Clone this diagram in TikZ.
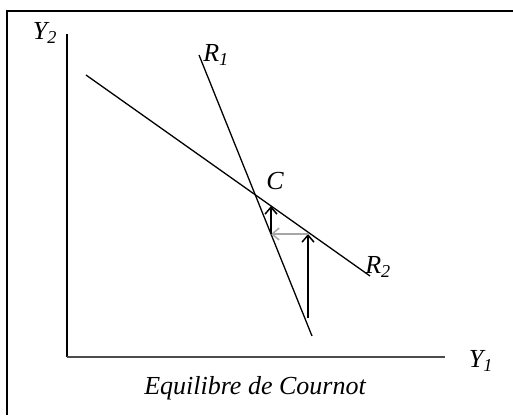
\documentclass[tikz,border=0pt]{standalone}
\usepackage{fontspec}
\setmainfont{Liberation Serif}
\usetikzlibrary{arrows.meta}

\begin{document}
\begin{tikzpicture}[x=1pt,y=-1pt,
	lbl/.style={font=\fontsize{26}{28}\selectfont\itshape, inner sep=0pt},
	fleche/.style={line width=1.8pt, -{Straight Barb[length=7pt,width=12pt,line width=1.5pt]}}]
	\useasboundingbox (0,0) rectangle (513,415);
	% cadre
	\draw[line width=2.3pt] (7,415) -- (7,11) -- (513,11);
	% axes
	\coordinate (O) at (67,357);
	\coordinate (haut) at (67,34);
	\coordinate (droite) at (445,357);
	\draw[line width=1.3pt] (O) -- (haut);
	\draw[line width=2pt, black!70] (O) -- (droite);
	\node[lbl] (y2) at (45,33) {Y\textsubscript{2}};
	\node[lbl] (y1) at (481,361) {Y\textsubscript{1}};
	% fonctions de reaction
	\coordinate (r1a) at (199,55);
	\coordinate (r1b) at (312,336);
	\coordinate (r2a) at (86,75);
	\coordinate (r2b) at (370,276);
	\draw[line width=1.3pt] (r1a) -- (r1b);
	\draw[line width=1.3pt] (r2a) -- (r2b);
	\node[lbl] (R1) at (216,55) {R\textsubscript{1}};
	\node[lbl] (R2) at (378,267) {R\textsubscript{2}};
	\node[lbl] (C) at (275,181) {C};
	% ajustement
	\coordinate (p0) at (308,318);
	\coordinate (p1) at (308,234);
	\coordinate (p2) at (271,234);
	\coordinate (p3) at (271,206);
	\draw[fleche] (p0) -- (p1);
	\draw[fleche, black!35] (p1) -- (p2);
	\draw[fleche] (p2) -- (p3);
	% titre
	\node[lbl] (titre) at (255,388) {Equilibre de Cournot};
\end{tikzpicture}
\end{document}
